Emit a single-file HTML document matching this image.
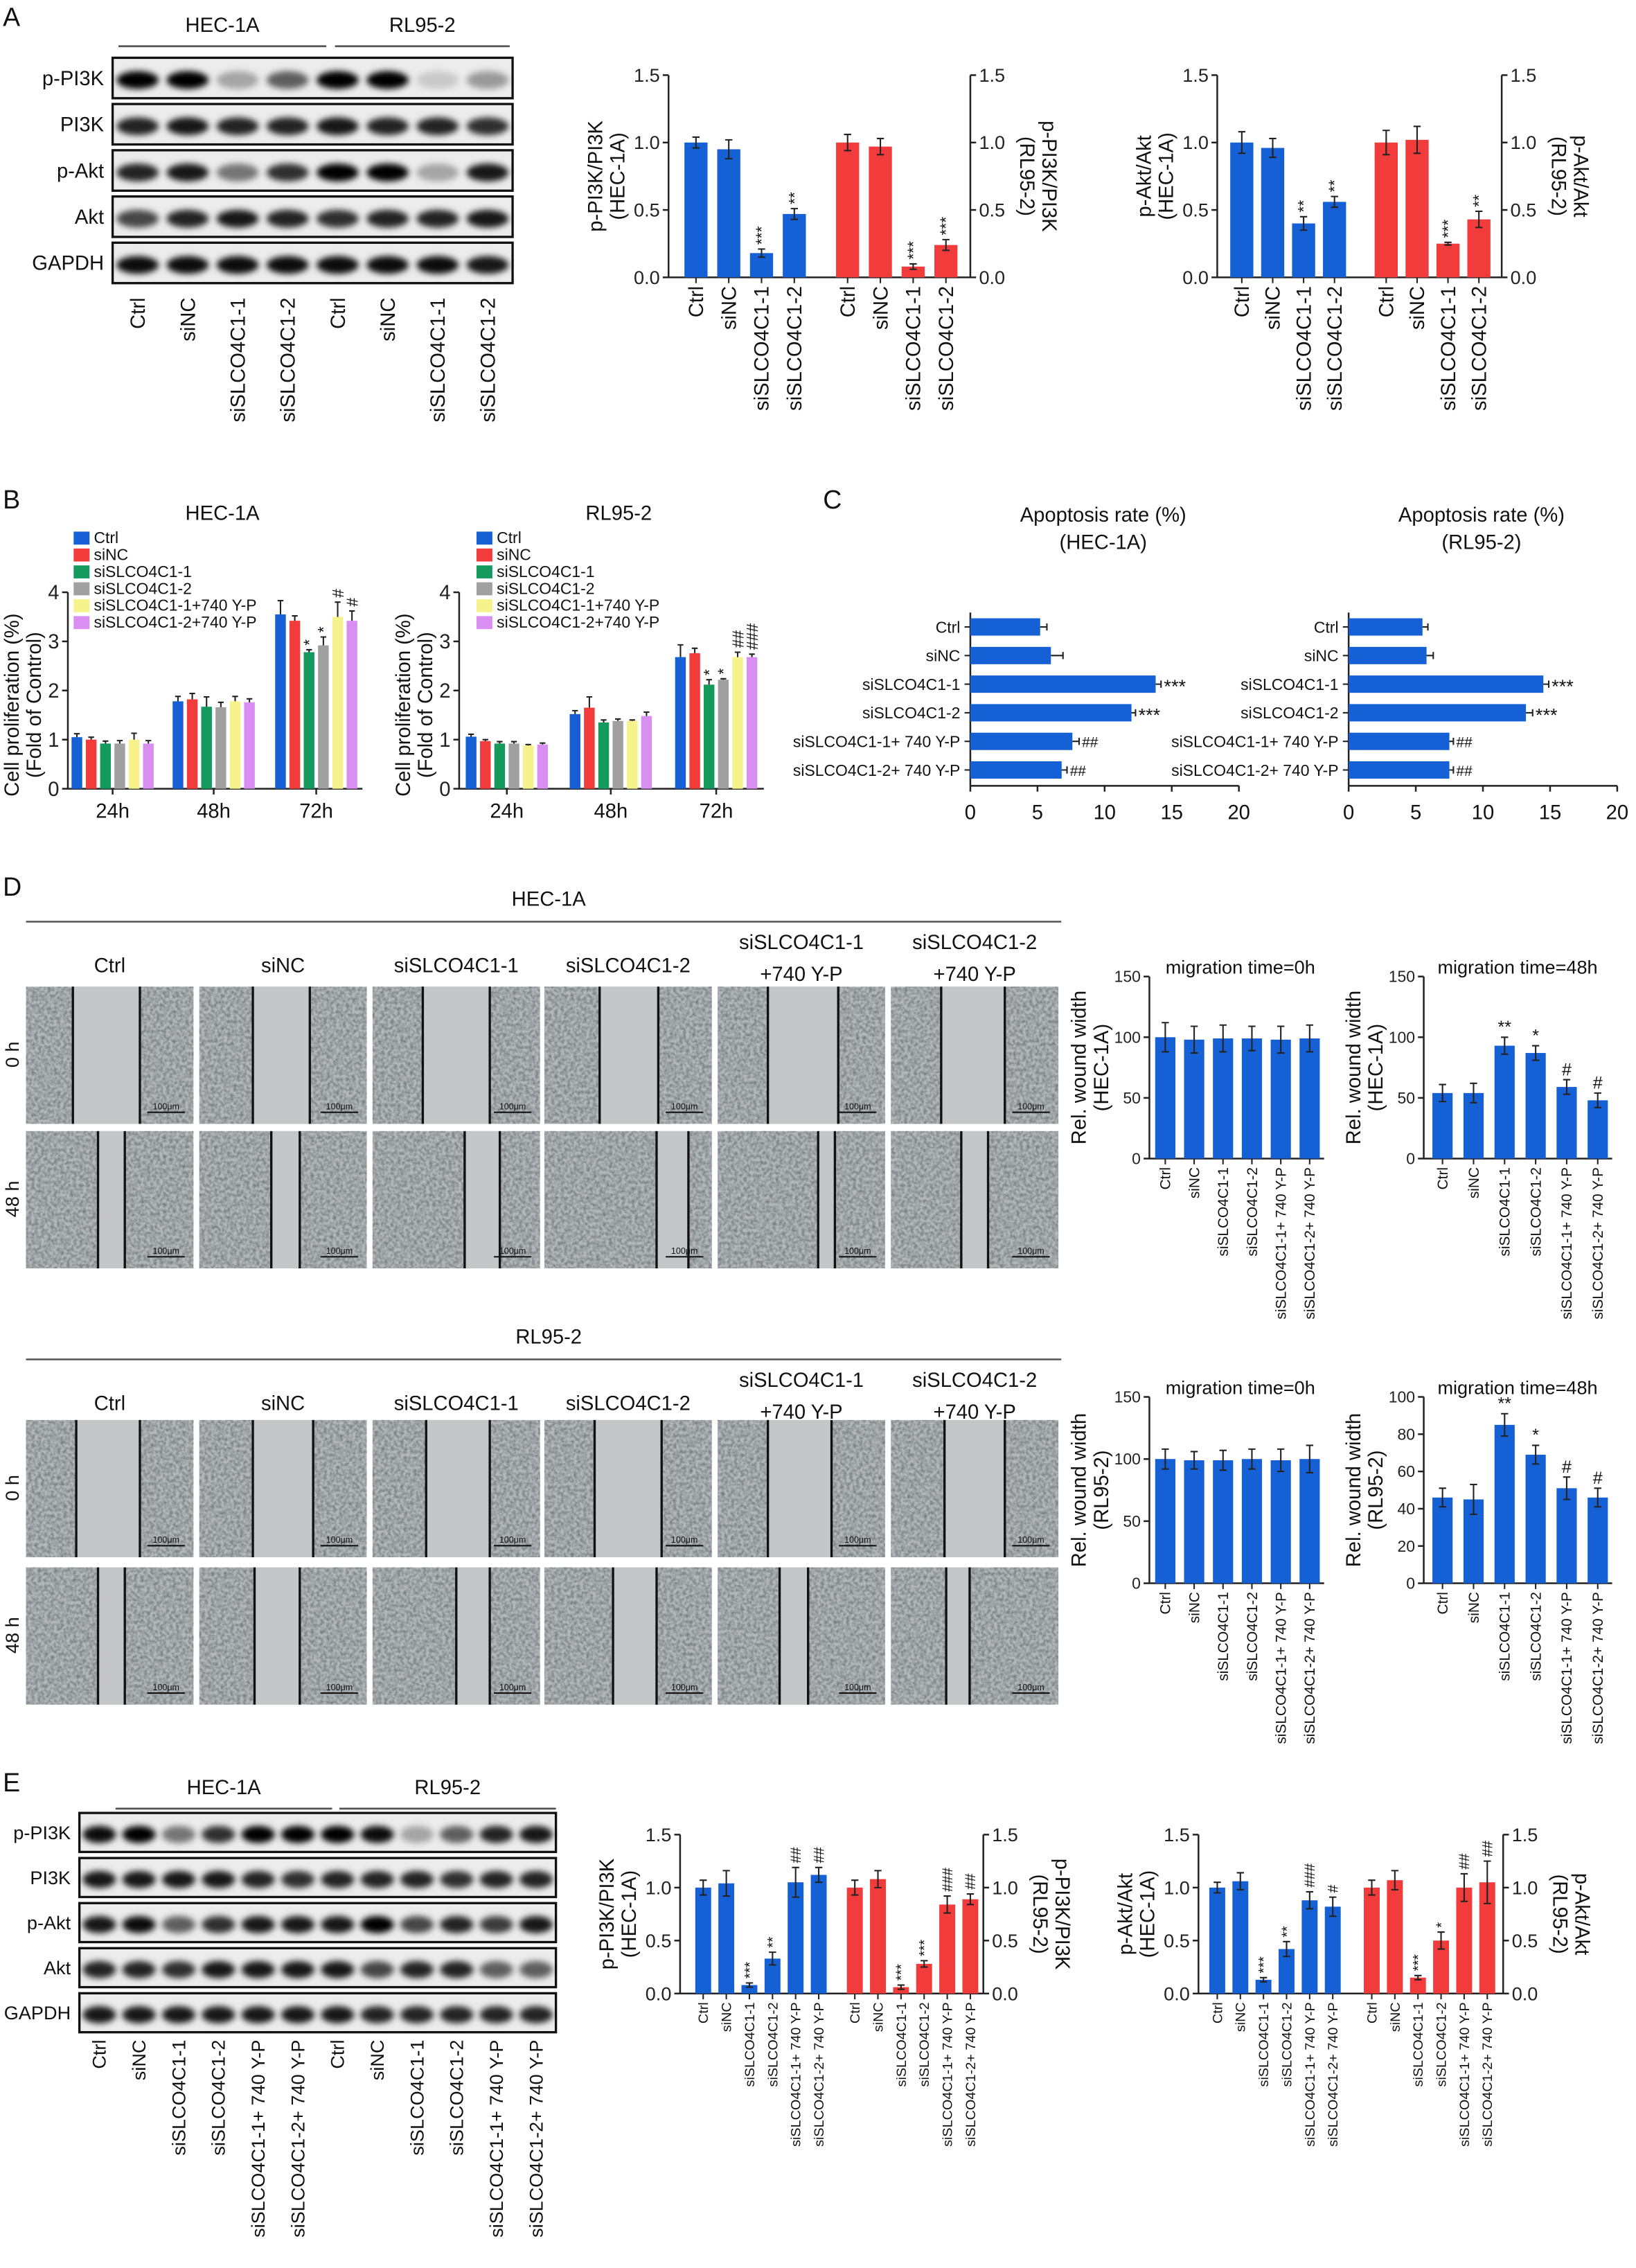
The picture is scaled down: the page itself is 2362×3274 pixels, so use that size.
<!DOCTYPE html>
<html><head><meta charset="utf-8">
<style>
html,body{margin:0;padding:0;background:#fff;}
svg{display:block;font-family:"Liberation Sans",Arial,sans-serif;}
</style></head>
<body>
<svg id="fig" xmlns="http://www.w3.org/2000/svg" width="2362" height="3274" viewBox="0 0 1133 1570" preserveAspectRatio="none">
<defs>
<filter id="blur" x="-50%" y="-100%" width="200%" height="300%"><feGaussianBlur stdDeviation="2.2"/></filter>
<filter id="noise" x="0" y="0" width="100%" height="100%">
<feTurbulence type="fractalNoise" baseFrequency="0.45" numOctaves="2" seed="3" result="t"/>
<feColorMatrix in="t" type="matrix" values="0 0 0 0 0.15  0 0 0 0 0.17  0 0 0 0 0.18  0 0 0 -1.6 1.1"/>
<feComposite in2="SourceGraphic" operator="in"/>
</filter>
</defs>
<rect x="0" y="0" width="1133" height="1570" fill="#fff"/>
</svg>
<script>
// ===== DATA =====
const catsA = ["Ctrl","siNC","siSLCO4C1-1","siSLCO4C1-2","Ctrl","siNC","siSLCO4C1-1","siSLCO4C1-2"];
const valsA1 = [1.0,0.95,0.18,0.47,1.0,0.97,0.08,0.24];
const errsA1 = [0.04,0.07,0.03,0.04,0.06,0.06,0.02,0.04];
const annA1 = ["","","***","**","","","***","***"];
const valsA2 = [1.0,0.96,0.40,0.56,1.0,1.02,0.25,0.43];
const errsA2 = [0.08,0.07,0.05,0.04,0.09,0.1,0.01,0.06];
const annA2 = ["","","**","**","","","***","**"];
const ticksA = [0,0.5,1.0,1.5];

const legendB = ["Ctrl","siNC","siSLCO4C1-1","siSLCO4C1-2","siSLCO4C1-1+740 Y-P","siSLCO4C1-2+740 Y-P"];
const timesB = ["24h","48h","72h"];
const valsB1 = [[1.05,1.0,0.92,0.92,1.0,0.92],[1.78,1.82,1.67,1.66,1.78,1.76],[3.55,3.42,2.78,2.92,3.5,3.42]];
const errsB1 = [[0.07,0.05,0.05,0.06,0.13,0.06],[0.1,0.12,0.2,0.1,0.1,0.07],[0.28,0.1,0.05,0.17,0.3,0.2]];
const annB1 = [["","","","","",""],["","","","","",""],["","","*","*","#","#"]];
const valsB2 = [[1.06,0.97,0.92,0.92,0.88,0.9],[1.52,1.65,1.35,1.38,1.38,1.48],[2.68,2.76,2.12,2.22,2.68,2.68]];
const errsB2 = [[0.05,0.03,0.04,0.04,0.02,0.03],[0.07,0.22,0.05,0.04,0.02,0.08],[0.25,0.1,0.1,0.02,0.1,0.06]];
const annB2 = [["","","","","",""],["","","","","",""],["","","*","*","##","###"]];
const ticksB = [0,1,2,3,4];

const catsC = ["Ctrl","siNC","siSLCO4C1-1","siSLCO4C1-2","siSLCO4C1-1+ 740 Y-P","siSLCO4C1-2+ 740 Y-P"];
const valsC1 = [5.2,6.0,13.8,12.0,7.6,6.8];
const errsC1 = [0.5,0.9,0.4,0.3,0.5,0.4];
const annC1 = ["","","***","***","##","##"];
const valsC2 = [5.5,5.8,14.5,13.2,7.5,7.5];
const errsC2 = [0.4,0.5,0.4,0.5,0.3,0.3];
const annC2 = ["","","***","***","##","##"];
const ticksC = [0,5,10,15,20];

const catsD = ["Ctrl","siNC","siSLCO4C1-1","siSLCO4C1-2","siSLCO4C1-1+ 740 Y-P","siSLCO4C1-2+ 740 Y-P"];
const valsD1 = [100,98,99,99,98,99];
const errsD1 = [12,11,11,10,11,11];
const valsD2 = [54,54,93,87,59,48];
const errsD2 = [7,8,7,6,6,6];
const annD2 = ["","","**","*","#","#"];
const valsD3 = [100,99,99,100,99,100];
const errsD3 = [8,7,8,8,9,11];
const valsD4 = [46,45,85,69,51,46];
const errsD4 = [5,8,6,5,6,5];
const annD4 = ["","","**","*","#","#"];
const ticksD150 = [0,50,100,150];
const ticksD100 = [0,20,40,60,80,100];

const catsE = ["Ctrl","siNC","siSLCO4C1-1","siSLCO4C1-2","siSLCO4C1-1+ 740 Y-P","siSLCO4C1-2+ 740 Y-P","Ctrl","siNC","siSLCO4C1-1","siSLCO4C1-2","siSLCO4C1-1+ 740 Y-P","siSLCO4C1-2+ 740 Y-P"];
const valsE1 = [1.0,1.04,0.08,0.33,1.05,1.12,1.0,1.08,0.06,0.28,0.84,0.89];
const errsE1 = [0.07,0.12,0.02,0.06,0.14,0.07,0.07,0.08,0.02,0.03,0.08,0.05];
const annE1 = ["","","***","**","##","##","","","***","***","###","##"];
const valsE2 = [1.0,1.06,0.13,0.42,0.88,0.82,1.0,1.07,0.15,0.5,1.0,1.05];
const errsE2 = [0.05,0.08,0.02,0.07,0.08,0.09,0.07,0.09,0.02,0.08,0.13,0.2];
const annE2 = ["","","***","**","###","#","","","***","*","##","##"];

const rowsBlot = ["p-PI3K","PI3K","p-Akt","Akt","GAPDH"];
const bandsA = [[1,1,0.3,0.6,1,1,0.15,0.35],[0.85,0.9,0.85,0.85,0.9,0.85,0.85,0.8],[0.85,0.9,0.5,0.8,1,1,0.3,0.9],[0.7,0.85,0.9,0.85,0.8,0.85,0.85,0.9],[0.95,0.95,0.95,0.95,0.95,0.95,0.95,0.9]];
const bandsE = [[0.95,1,0.5,0.8,1,1,1,0.95,0.3,0.6,0.85,0.9],[0.9,0.9,0.9,0.9,0.85,0.8,0.85,0.85,0.85,0.8,0.85,0.85],[0.9,0.95,0.6,0.8,0.9,0.9,0.9,1,0.7,0.85,0.75,0.9],[0.85,0.85,0.8,0.9,0.9,0.9,0.9,0.7,0.85,0.85,0.6,0.6],[0.9,0.9,0.9,0.9,0.9,0.9,0.9,0.85,0.85,0.85,0.85,0.85]];

const colsD = ["Ctrl","siNC","siSLCO4C1-1","siSLCO4C1-2","siSLCO4C1-1|+740 Y-P","siSLCO4C1-2|+740 Y-P"];
const gapsH0 = [[0.28,0.68],[0.32,0.66],[0.3,0.7],[0.33,0.68],[0.3,0.72],[0.3,0.68]];
const gapsH48 = [[0.43,0.59],[0.43,0.6],[0.55,0.76],[0.67,0.86],[0.6,0.7],[0.42,0.58]];
const gapsR0 = [[0.3,0.68],[0.32,0.68],[0.32,0.7],[0.3,0.7],[0.3,0.68],[0.32,0.68]];
const gapsR48 = [[0.43,0.59],[0.33,0.6],[0.5,0.7],[0.41,0.67],[0.37,0.54],[0.33,0.47]];

const BLUE="#1560d4", RED="#f23c3c";
const colorsB = ["#1560d4","#f23c3c","#149a5c","#a0a0a0","#f7f38c","#d98ef2"];

// ===== HELPERS =====
const NS='http://www.w3.org/2000/svg';
const root=document.getElementById('fig');
function mk(tag, attrs, parent){const e=document.createElementNS(NS,tag);for(const k in attrs)e.setAttribute(k,attrs[k]);(parent||root).appendChild(e);return e;}
function tx(s, attrs, parent){const e=mk('text',attrs,parent);e.textContent=s;return e;}
function grp(name){const g=mk('g',{});


return g;}
function band(start, step, size, gap){return i=>start+i*step+Math.floor(i/size)*gap;}
function lin(d0,d1,r0,r1){return v=>r0+(v-d0)/(d1-d0)*(r1-r0);}

function yAxis(g, x, ticks, ys, side, fmt, fs, y0, y1){
  const l=mk('line',{x1:x,x2:x,y1:y0,y2:y1,stroke:'#222','stroke-width':1.2},g);
  
  
  ticks.forEach(t=>{
    const y=ys(t);
    const tk=mk('line',{x1:x,x2:x+(side<0?-4:4),y1:y,y2:y,stroke:'#222','stroke-width':1.2},g);
    
    
    const lb=tx(fmt(t),{x:x+(side<0?-6:6),y:y+fs*0.35,'font-size':fs,'text-anchor':side<0?'end':'start',fill:'#222'},g);
    
    
  });
}
function rotTitle(g, lines, x, yc, fs, ang, name){
  lines.forEach((s,k)=>{
    const xx = ang<0 ? x+k*fs*1.1 : x-k*fs*1.1;
    const t=tx(s,{x:0,y:0,'font-size':fs,'text-anchor':'middle',fill:'#111',transform:`translate(${xx},${yc}) rotate(${ang})`},g);
    
    
  });
}
function vbars(g, cats, vals, errs, anns, xf, ys, bw, colorOf, labFs, labY, annFs, annRot){
  const base=ys(0);
  vals.forEach((v,i)=>{
    const x=xf(i), y=ys(v);
    const r=mk('rect',{x:x-bw/2,y:y,width:bw,height:base-y,fill:colorOf(i)},g);
    
    
    const ye=ys(v+errs[i]), yl=ys(Math.max(0,v-errs[i]));
    const e=mk('path',{d:`M${x},${yl}V${ye}M${x-2.5},${ye}H${x+2.5}M${x-2.5},${yl}H${x+2.5}`,stroke:'#222','stroke-width':1,fill:'none'},g);
    
    
    if(anns && anns[i]){
      const ay=ye-3;
      const a=tx(anns[i],{x:0,y:0,'font-size':annFs,fill:'#111','text-anchor':annRot?'start':'middle',transform:annRot?`translate(${x+annFs*0.35},${ay}) rotate(-90)`:`translate(${x},${ay})`},g);
      
      
    }
    const tk=mk('line',{x1:x,x2:x,y1:base,y2:base+4,stroke:'#222','stroke-width':1},g);
    
    
    const lb=tx(cats[i],{x:0,y:0,'font-size':labFs,'text-anchor':'end',fill:'#111',transform:`translate(${x+labFs*0.35},${labY}) rotate(-90)`},g);
    
    
  });
}
function blot(g, x, y, w, rh, gap, lanes, bands, labels, lfs){
  const lw=w/lanes;
  labels.forEach((lab,r)=>{
    const yy=y+r*(rh+gap);
    const bg=mk('rect',{x:x,y:yy,width:w,height:rh,fill:'#ececec',stroke:'#111','stroke-width':1.6},g);
    
    
    bands[r].forEach((b,i)=>{
      const el=mk('ellipse',{cx:x+lw*(i+0.5),cy:yy+rh*0.55,rx:lw*0.42,ry:rh*0.22,fill:'#000','fill-opacity':b,filter:'url(#blur)'},g);
      
      
    });
    const t=tx(lab,{x:x-6,y:yy+rh/2+lfs*0.35,'font-size':lfs,'text-anchor':'end',fill:'#111'},g);
    
    
  });
}
function header(g, s, x1, x2, y, fs){
  const t=tx(s,{x:(x1+x2)/2,y:y,'font-size':fs,'text-anchor':'middle',fill:'#111'},g);
  
  
  const l=mk('line',{x1:x1,x2:x2,y1:y+10,y2:y+10,stroke:'#555','stroke-width':1.3},g);
  
  
}
function panelLetter(s,x,y){
  const t=tx(s,{x:x,y:y,'font-size':18,fill:'#111'});
  
  
}

// ===== PANEL A =====
panelLetter('A',2,18);
(function(){
  const g=grp('panel-a-blot');
  header(g,'HEC-1A',82,226,22,14);
  header(g,'RL95-2',232,353,22,14);
  blot(g,78,40,277,28,4,8,bandsA,rowsBlot,14);
  const lw=277/8;
  catsA.forEach((c,i)=>{
    const x=78+lw*(i+0.5);
    const t=tx(c,{x:0,y:0,'font-size':14,'text-anchor':'end',fill:'#111',transform:`translate(${x+5},${206}) rotate(-90)`},g);
    
    
  });
})();
function dualChart(name, vals, errs, anns, xf, xl, xr, y0, y1, cats, labFs, title1, title2, tfs, barW, annFs){
  const g=grp(name);
  const ys=lin(0,1.5,y0,y1);
  yAxis(g,xl,ticksA,ys,-1,t=>t.toFixed(1),13,y0,y1);
  yAxis(g,xr,ticksA,ys,1,t=>t.toFixed(1),13,y0,y1);
  const bl=mk('line',{x1:xl,x2:xr,y1:y0,y2:y0,stroke:'#222','stroke-width':1.2},g);
  
  
  const half=vals.length/2;
  vbars(g,cats,vals,errs,anns,xf,ys,barW,i=>i<half?BLUE:RED,labFs,y0+6,annFs,true);
  rotTitle(g,title1,xl-46,(y0+y1)/2,tfs,-90,'y-axis-title-left');
  rotTitle(g,title2,xr+50,(y0+y1)/2,tfs,90,'y-axis-title-right');
}
dualChart('chart-a-pi3k',valsA1,errsA1,annA1,band(482,22.7,4,14.2),463,672,192,52,catsA,14,['p-PI3K/PI3K','(HEC-1A)'],['p-PI3K/PI3K','(RL95-2)'],14,16,11);
dualChart('chart-a-akt',valsA2,errsA2,annA2,band(860,21.4,4,14.4),843,1040,192,52,catsA,14,['p-Akt/Akt','(HEC-1A)'],['p-Akt/Akt','(RL95-2)'],14,16,11);

// ===== PANEL B =====
panelLetter('B',2,352);
function prolif(name, title, vals, errs, anns, xl, xr, centers, legX){
  const g=grp(name);
  const y0=546,y1=410;
  const ys=lin(0,4,y0,y1);
  const t=tx(title,{x:(xl+xr)/2+5,y:360,'font-size':14,'text-anchor':'middle',fill:'#111'},g);
  
  
  legendB.forEach((s,k)=>{
    const r=mk('rect',{x:legX,y:368+k*11.7,width:11,height:9,fill:colorsB[k]},g);
    
    
    const lt=tx(s,{x:legX+14,y:376+k*11.7,'font-size':11,fill:'#111'},g);
    
    
  });
  yAxis(g,xl,ticksB,ys,-1,v=>String(v),14,y0,y1);
  const bl=mk('line',{x1:xl,x2:xr,y1:y0,y2:y0,stroke:'#222','stroke-width':1.2},g);
  
  
  timesB.forEach((tm,gi)=>{
    const cx=centers[gi];
    const tk=mk('line',{x1:cx,x2:cx,y1:y0,y2:y0+4,stroke:'#222','stroke-width':1.2},g);
    
    
    const lb=tx(tm,{x:cx,y:y0+20,'font-size':14,'text-anchor':'middle',fill:'#111'},g);
    
    
    vals[gi].forEach((v,j)=>{
      const x=cx+(j-2.5)*9.9, y=ys(v);
      const r=mk('rect',{x:x-3.7,y:y,width:7.4,height:y0-y,fill:colorsB[j]},g);
      
      
      const ye=ys(v+errs[gi][j]);
      const e=mk('path',{d:`M${x},${y}V${ye}M${x-2},${ye}H${x+2}`,stroke:'#222','stroke-width':1,fill:'none'},g);
      
      
      if(anns[gi][j]){
        const a=tx(anns[gi][j],{x:0,y:0,'font-size':11,'text-anchor':'start',fill:'#111',transform:`translate(${x+4},${ye-3}) rotate(-90)`},g);
        
        
      }
    });
  });
  rotTitle(g,['Cell proliferation (%)','(Fold of Control)'],xl-34,(y0+y1)/2+10,14,-90,'y-axis-title');
}
prolif('chart-b-hec1a','HEC-1A',valsB1,errsB1,annB1,47,251,[78,148,219],51);
prolif('chart-b-rl952','RL95-2',valsB2,errsB2,annB2,318,529,[351,423,496],330);

// ===== PANEL C =====
panelLetter('C',570,352);
function apop(name, t2, vals, errs, anns, x0, rowX){
  const g=grp(name);
  const xs=lin(0,20,x0,x0+186);
  const rows=i=>434+i*19.8;
  [ 'Apoptosis rate (%)', t2 ].forEach((s,k)=>{
    const t=tx(s,{x:x0+92,y:361+k*19,'font-size':14,'text-anchor':'middle',fill:'#111'},g);
    
    
  });
  const ax=mk('line',{x1:x0,x2:x0,y1:424,y2:544,stroke:'#222','stroke-width':1.2},g);
  
  
  const bx=mk('line',{x1:x0,x2:x0+186,y1:544,y2:544,stroke:'#222','stroke-width':1.2},g);
  
  
  ticksC.forEach(v=>{
    const x=xs(v);
    const tk=mk('line',{x1:x,x2:x,y1:544,y2:548,stroke:'#222','stroke-width':1.2},g);
    
    
    const lb=tx(String(v),{x:x,y:567,'font-size':14,'text-anchor':'middle',fill:'#111'},g);
    
    
  });
  vals.forEach((v,i)=>{
    const y=rows(i);
    const r=mk('rect',{x:x0,y:y-6,width:xs(v)-x0,height:12,fill:BLUE},g);
    
    
    const xe=xs(v+errs[i]);
    const e=mk('path',{d:`M${xs(v)},${y}H${xe}M${xe},${y-2.5}V${y+2.5}`,stroke:'#222','stroke-width':1,fill:'none'},g);
    
    
    if(anns[i]){
      const a=tx(anns[i],{x:xe+2,y:y+(anns[i][0]=='*'?6:4),'font-size':anns[i][0]=='*'?13:10,fill:'#111'},g);
      
      
    }
    const tk=mk('line',{x1:x0,x2:x0-4,y1:y,y2:y,stroke:'#222','stroke-width':1},g);
    
    
    const lb=tx(catsC[i],{x:x0-7,y:y+4,'font-size':11,'text-anchor':'end',fill:'#111'},g);
    
    
  });
}
apop('chart-c-hec1a','(HEC-1A)',valsC1,errsC1,annC1,672);
apop('chart-c-rl952','(RL95-2)',valsC2,errsC2,annC2,934);

// ===== PANEL D =====
panelLetter('D',2,620);
const imgX=[18,138,258,377,497,617];
function microRow(g, y, h, gaps){
  imgX.forEach((x,i)=>{
    const w=116;
    const bg=mk('rect',{x:x,y:y,width:w,height:h,fill:'#b4b8bb'},g);
    
    
    const gp=gaps[i];
    const gr=mk('rect',{x:x+w*gp[0],y:y,width:w*(gp[1]-gp[0]),height:h,fill:'#c4c6c8'},g);
    
    
    const tl=mk('rect',{x:x,y:y,width:w*gp[0],height:h,fill:'#fff',filter:'url(#noise)'},g);
    
    
    const tr=mk('rect',{x:x+w*gp[1],y:y,width:w*(1-gp[1]),height:h,fill:'#fff',filter:'url(#noise)'},g);
    
    
    [gp[0],gp[1]].forEach(f=>{
      const l=mk('line',{x1:x+w*f,x2:x+w*f,y1:y,y2:y+h,stroke:'#111','stroke-width':1.6},g);
      
      
    });
    const sb=mk('line',{x1:x+w-32,x2:x+w-6,y1:y+h-8,y2:y+h-8,stroke:'#111','stroke-width':1},g);
    
    
    const st=tx('100μm',{x:x+w-19,y:y+h-10,'font-size':6,'text-anchor':'middle',fill:'#111'},g);
    
    
  });
}
function microBlock(name, title, ty, r0y, r1y, gaps0, gaps48){
  const g=grp(name);
  const t=tx(title,{x:380,y:ty,'font-size':14,'text-anchor':'middle',fill:'#111'},g);
  
  
  const l=mk('line',{x1:18,x2:735,y1:ty+11,y2:ty+11,stroke:'#555','stroke-width':1.2},g);
  
  
  colsD.forEach((c,i)=>{
    const parts=c.split('|');
    const cx=imgX[i]+58;
    parts.forEach((p,k)=>{
      const yy=parts.length==1?ty+46:ty+30+k*22;
      const ct=tx(p,{x:cx,y:yy,'font-size':14,'text-anchor':'middle',fill:'#111'},g);
      
      
    });
  });
  microRow(g,r0y,95,gaps0);
  microRow(g,r1y,95,gaps48);
  [['0 h',r0y],['48 h',r1y]].forEach(([s,yy])=>{
    const rt=tx(s,{x:0,y:0,'font-size':13,'text-anchor':'middle',fill:'#111',transform:`translate(13,${yy+47}) rotate(-90)`},g);
    
    
  });
}
microBlock('panel-d-hec1a-images','HEC-1A',627,683,783,gapsH0,gapsH48);
microBlock('panel-d-rl952-images','RL95-2',930,983,1085,gapsR0,gapsR48);

function woundChart(name, title, vals, errs, anns, ticks, ymax, xl, start, step, y0, y1, ytitle2){
  const g=grp(name);
  const ys=lin(0,ymax,y0,y1);
  const t=tx(title,{x:start+52,y:y1-2,'font-size':13,'text-anchor':'middle',fill:'#111'},g);
  
  
  yAxis(g,xl,ticks,ys,-1,v=>String(v),11,y0,y1);
  const bl=mk('line',{x1:xl,x2:start+5*step+10,y1:y0,y2:y0,stroke:'#222','stroke-width':1.2},g);
  
  
  vbars(g,catsD,vals,errs,anns,band(start,step,6,0),ys,14,()=>BLUE,10,y0+6,12,false);
  rotTitle(g,['Rel. wound width',ytitle2],xl-44,(y0+y1)/2,14,-90,'y-axis-title');
}
woundChart('chart-d-hec1a-0h','migration time=0h',valsD1,errsD1,null,ticksD150,150,796,807,20,802,676,'(HEC-1A)');
woundChart('chart-d-hec1a-48h','migration time=48h',valsD2,errsD2,annD2,ticksD150,150,986,999,21.5,802,676,'(HEC-1A)');
woundChart('chart-d-rl952-0h','migration time=0h',valsD3,errsD3,null,ticksD150,150,796,807,20,1096,967,'(RL95-2)');
woundChart('chart-d-rl952-48h','migration time=48h',valsD4,errsD4,annD4,ticksD100,100,986,999,21.5,1096,967,'(RL95-2)');

// ===== PANEL E =====
panelLetter('E',2,1240);
(function(){
  const g=grp('panel-e-blot');
  header(g,'HEC-1A',80,230,1242,14);
  header(g,'RL95-2',235,385,1242,14);
  blot(g,55,1255,330,27,4.2,12,bandsE,rowsBlot,13);
  const lw=330/12;
  catsE.forEach((c,i)=>{
    const x=55+lw*(i+0.5);
    const t=tx(c,{x:0,y:0,'font-size':13,'text-anchor':'end',fill:'#111',transform:`translate(${x+4.5},${1412}) rotate(-90)`},g);
    
    
  });
})();
dualChart('chart-e-pi3k',valsE1,errsE1,annE1,band(487,16,6,9),471,681,1380,1270,catsE,9.5,['p-PI3K/PI3K','(HEC-1A)'],['p-PI3K/PI3K','(RL95-2)'],14,11,10);
dualChart('chart-e-akt',valsE2,errsE2,annE2,band(843,16,6,11),830,1041,1380,1270,catsE,9.5,['p-Akt/Akt','(HEC-1A)'],['p-Akt/Akt','(RL95-2)'],14,11,10);
</script>
</body></html>
